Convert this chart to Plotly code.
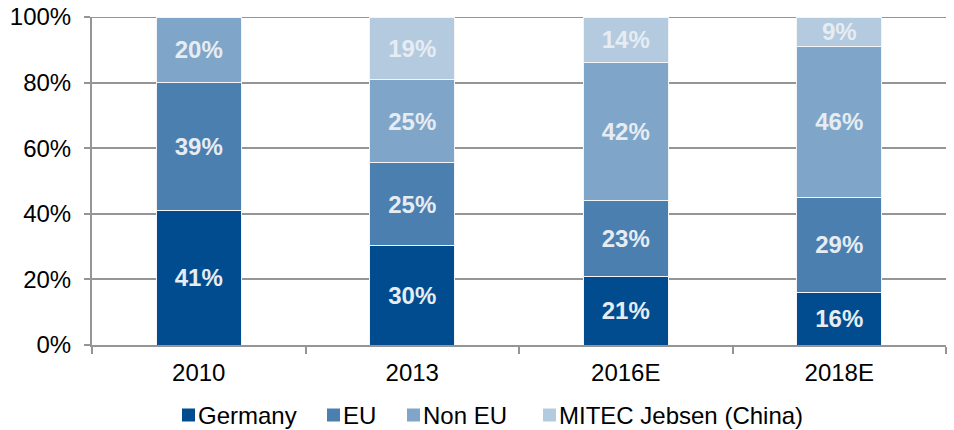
import plotly.graph_objects as go

categories = ["2010", "2013", "2016E", "2018E"]
germany = [41, 30, 21, 16]
eu = [39, 25, 23, 29]
non_eu = [20, 25, 42, 46]
mitec = [0, 19, 14, 9]
series_names = ["Germany", "EU", "Non EU", "MITEC Jebsen (China)"]
y_ticks = [0, 20, 40, 60, 80, 100]

colors = ["#004c8e", "#4b7fb0", "#7fa6c8", "#b3cadf"]
label_color = "#e6ecf2"
grid = "#959595"
FONT = "Liberation Sans, Arial"

W, H = 954, 430
ML, MR, MT, MB = 92, 8, 17, 85
PW, PH = W - ML - MR, H - MT - MB

fig = go.Figure()
for name, vals, col in zip(series_names, [germany, eu, non_eu, mitec], colors):
    fig.add_trace(go.Bar(
        x=categories, y=vals, name=name,
        marker=dict(color=col, line=dict(color="#f2f4f7", width=1)),
        text=[f"{v}%" if v > 0 else "" for v in vals],
        textposition="inside", insidetextanchor="middle", textangle=0,
        textfont=dict(family=FONT, size=24, color=label_color, weight="bold"),
        width=0.4, showlegend=False,
    ))

# top gridline (at the upper end of the axis range)
shapes = [dict(type="line", xref="paper", yref="y", x0=0, x1=1, y0=y_ticks[-1], y1=y_ticks[-1],
               line=dict(color=grid, width=2), layer="below")]
annotations = []

# custom legend (square + label), positions in figure pixels
legend_sq_x = [182, 327, 407, 543]
sq = 13
legend_cy = 415
for name, col, sx in zip(series_names, colors, legend_sq_x):
    x0 = (sx - ML) / PW
    x1 = (sx + sq - ML) / PW
    y0 = (H - MB - (legend_cy + sq / 2)) / PH
    y1 = (H - MB - (legend_cy - sq / 2)) / PH
    shapes.append(dict(type="rect", xref="paper", yref="paper", x0=x0, x1=x1, y0=y0, y1=y1,
                       fillcolor=col, line=dict(width=0)))
    annotations.append(dict(text=name, xref="paper", yref="paper",
                            x=(sx + sq + 1 - ML) / PW, y=(H - MB - legend_cy) / PH,
                            xanchor="left", yanchor="middle", showarrow=False,
                            font=dict(family=FONT, size=24, color="black")))

fig.update_layout(
    barmode="stack", barnorm="percent",
    width=W, height=H,
    margin=dict(l=ML, r=MR, t=MT, b=MB, autoexpand=False),
    plot_bgcolor="white", paper_bgcolor="white",
    font=dict(family=FONT, size=24, color="black"),
    uniformtext=dict(minsize=24, mode="show"),
    showlegend=False,
    shapes=shapes, annotations=annotations,
)
fig.update_xaxes(type="category", showline=True, linecolor=grid, linewidth=2,
                 ticks="outside", tickson="boundaries", ticklen=7, tickcolor=grid, tickwidth=2,
                 showgrid=False, automargin=False, ticklabelstandoff=5)
fig.update_yaxes(range=[0, 100], tickvals=y_ticks, ticktext=[f"{t}%" for t in y_ticks],
                 showline=True, linecolor=grid, linewidth=2,
                 ticks="outside", ticklen=6, tickcolor=grid, tickwidth=2,
                 showgrid=True, gridcolor=grid, gridwidth=2, zeroline=False,
                 ticklabelstandoff=8, automargin=False, ticklabeloverflow="allow")

# remove the browser's default 8px body margin so the figure fills the window exactly
fig.write_html("out.html", config={"displayModeBar": False},
               post_script="document.body.style.margin='0';")
